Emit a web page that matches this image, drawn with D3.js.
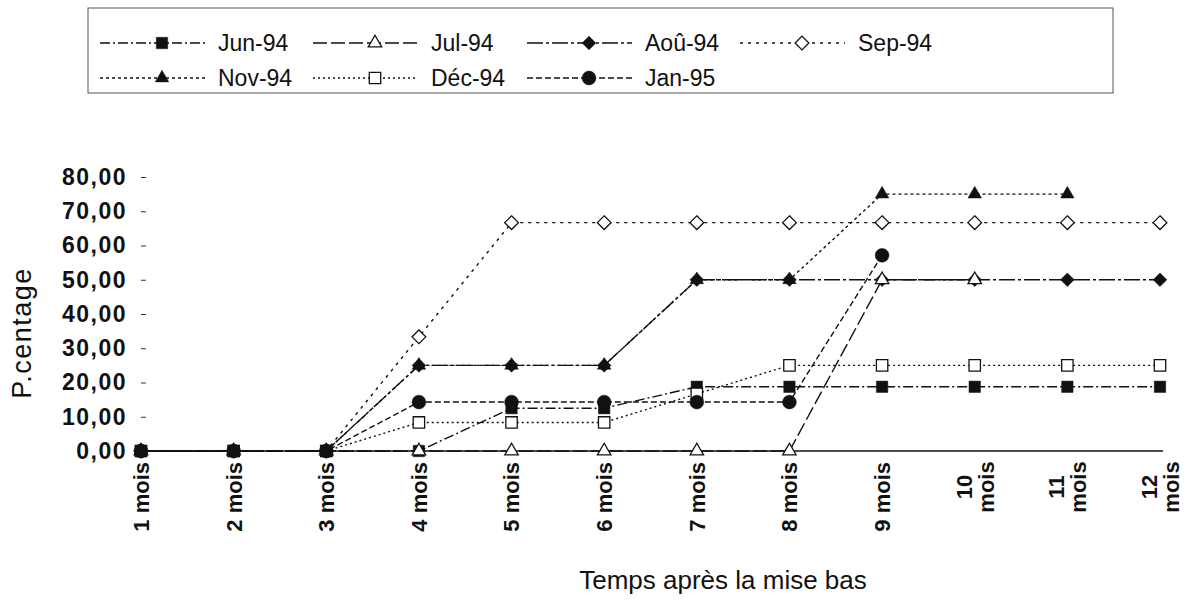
<!DOCTYPE html>
<html>
<head>
<meta charset="utf-8">
<script src="https://cdn.jsdelivr.net/npm/d3@7"></script>
<style>
  body { margin: 0; background: #fff; }
  svg text { font-family: "Liberation Sans", Arial, sans-serif; fill: #111; }
</style>
</head>
<body>
<div id="chart"></div>
<script>
const categories = ["1 mois", "2 mois", "3 mois", "4 mois", "5 mois", "6 mois",
  "7 mois", "8 mois", "9 mois", "10 mois", "11 mois", "12 mois"];
const seriesNames = ["Jun-94", "Jul-94", "Aoû-94", "Sep-94", "Nov-94", "Déc-94", "Jan-95"];
const jun94 = [0, 0, 0, 0, 12.5, 12.5, 18.75, 18.75, 18.75, 18.75, 18.75, 18.75];
const jul94 = [0, 0, 0, 0, 0, 0, 0, 0, 50, 50, null, null];
const aou94 = [0, 0, 0, 25, 25, 25, 50, 50, 50, 50, 50, 50];
const sep94 = [0, 0, 0, 33.33, 66.67, 66.67, 66.67, 66.67, 66.67, 66.67, 66.67, 66.67];
const nov94 = [0, 0, 0, 25, 25, 25, 50, 50, 75, 75, 75, null];
const dec94 = [0, 0, 0, 8.33, 8.33, 8.33, 16.67, 25, 25, 25, 25, 25];
const jan95 = [0, 0, 0, 14.29, 14.29, 14.29, 14.29, 14.29, 57.14, null, null, null];
const yTicks = [0, 10, 20, 30, 40, 50, 60, 70, 80];
const xTitle = "Temps après la mise bas";
const yTitle = "P.centage";

(() => {
  const width = 1191;
  const height = 603;

  const svg = d3
    .select("#chart")
    .append("svg")
    .attr("width", width)
    .attr("height", height);

  const x = d3.scalePoint().domain(categories).range([141, 1160]);
  const y = d3.scaleLinear().domain([0, 80]).range([451, 177]);

  const fr = d3.formatLocale({ decimal: ",", thousands: " ", grouping: [3], currency: ["", ""] });
  const fmt = fr.format(".2f");

  // styles per series, drawing order puts Jul-94 over Aoû-94 like the scan
  const styles = {
    "Jun-94": { values: jun94, marker: "square", fill: "#111", dash: "10,3,2,3" },
    "Jul-94": { values: jul94, marker: "triangle", fill: "#fff", dash: "14,4" },
    "Aoû-94": { values: aou94, marker: "diamond", fill: "#111", dash: "16,3,3,3" },
    "Sep-94": { values: sep94, marker: "diamond", fill: "#fff", dash: "3,5" },
    "Nov-94": { values: nov94, marker: "triangle", fill: "#111", dash: "3,3" },
    "Déc-94": { values: dec94, marker: "square", fill: "#fff", dash: "2,3" },
    "Jan-95": { values: jan95, marker: "circle", fill: "#111", dash: "6,3" },
  };
  const drawOrder = ["Jun-94", "Aoû-94", "Sep-94", "Nov-94", "Déc-94", "Jul-94", "Jan-95"];

  const symbolFor = (m) => {
    if (m === "square") return d3.symbol(d3.symbolSquare, 130);
    if (m === "diamond") return d3.symbol(d3.symbolDiamond2, 120);
    if (m === "triangle") return d3.symbol(d3.symbolTriangle2, 130);
    return d3.symbol(d3.symbolCircle, 150);
  };

  // y axis
  const yAxis = svg
    .append("g")
    .attr("transform", "translate(146,0)")
    .call(d3.axisLeft(y).tickValues(yTicks).tickFormat(fmt).tickSize(5).tickPadding(14));
  yAxis.select(".domain").remove();
  yAxis.selectAll("line").attr("stroke", "#333");
  yAxis
    .selectAll("text")
    .style("font-size", "23px")
    .style("font-weight", "bold")
    .style("letter-spacing", "1.5px")
    .style("font-family", "'Liberation Sans', Arial, sans-serif");

  // x axis line at 0
  svg
    .append("line")
    .attr("x1", x(categories[0]))
    .attr("x2", x(categories[categories.length - 1]) + 3)
    .attr("y1", y(0))
    .attr("y2", y(0))
    .attr("stroke", "#111")
    .attr("stroke-width", 1.3);

  // x tick labels, rotated
  const xl = svg.append("g");
  categories.forEach((c) => {
    const parts = c.split(" ");
    const g = xl.append("g").attr("transform", `translate(${x(c)},462) rotate(-90)`);
    if (parts[0].length < 2) {
      g.append("text")
        .attr("text-anchor", "end")
        .attr("dy", "0.36em")
        .style("font-size", "22px")
        .style("font-weight", "bold")
        .text(c);
    } else {
      const t = g
        .append("text")
        .attr("text-anchor", "middle")
        .style("font-size", "22px")
        .style("font-weight", "bold");
      t.append("tspan").attr("x", -25).attr("y", -11).attr("dy", "0.36em").text(parts[0]);
      t.append("tspan").attr("x", -25).attr("y", 11).attr("dy", "0.36em").text(parts[1]);
    }
  });

  // titles
  svg
    .append("text")
    .attr("x", 723)
    .attr("y", 589)
    .attr("text-anchor", "middle")
    .style("font-size", "26px")
    .text(xTitle);

  svg
    .append("text")
    .attr("transform", "translate(31,333) rotate(-90)")
    .attr("text-anchor", "middle")
    .style("font-size", "27px")
    .style("letter-spacing", "1.5px")
    .text(yTitle);

  // lines
  const line = d3
    .line()
    .defined((d) => d.v !== null)
    .x((d) => x(d.c))
    .y((d) => y(d.v));

  drawOrder.forEach((name) => {
    const s = styles[name];
    const pts = s.values.map((v, i) => ({ c: categories[i], v }));
    svg
      .append("path")
      .datum(pts)
      .attr("d", line)
      .attr("fill", "none")
      .attr("stroke", "#111")
      .attr("stroke-width", 1.4)
      .attr("stroke-dasharray", s.dash);
  });

  drawOrder.forEach((name) => {
    const s = styles[name];
    const pts = s.values.map((v, i) => ({ c: categories[i], v })).filter((d) => d.v !== null);
    svg
      .append("g")
      .selectAll("path")
      .data(pts)
      .join("path")
      .attr("transform", (d) => `translate(${x(d.c)},${y(d.v)})`)
      .attr("d", symbolFor(s.marker))
      .attr("fill", s.fill)
      .attr("stroke", "#111")
      .attr("stroke-width", s.fill === "#fff" ? 1.3 : 0.5);
  });

  // legend
  const legend = svg.append("g");
  legend
    .append("rect")
    .attr("x", 88)
    .attr("y", 8)
    .attr("width", 1025)
    .attr("height", 85)
    .attr("fill", "none")
    .attr("stroke", "#555")
    .attr("stroke-width", 1);

  const colX = [100, 313, 527, 740];
  const rowY = [43, 78];
  seriesNames.forEach((name, i) => {
    const s = styles[name];
    const cx = colX[i % 4];
    const cy = rowY[Math.floor(i / 4)];
    const g = legend.append("g").attr("transform", `translate(${cx},${cy})`);
    g.append("line")
      .attr("x1", 0)
      .attr("x2", 105)
      .attr("stroke", "#111")
      .attr("stroke-width", 1.3)
      .attr("stroke-dasharray", s.dash);
    g.append("path")
      .attr("transform", "translate(62,0)")
      .attr("d", symbolFor(s.marker))
      .attr("fill", s.fill)
      .attr("stroke", "#111")
      .attr("stroke-width", s.fill === "#fff" ? 1.3 : 0.5);
    g.append("text")
      .attr("x", 118)
      .attr("dy", "0.36em")
      .style("font-size", "23px")
      .text(name);
  });
})();
</script>
</body>
</html>
